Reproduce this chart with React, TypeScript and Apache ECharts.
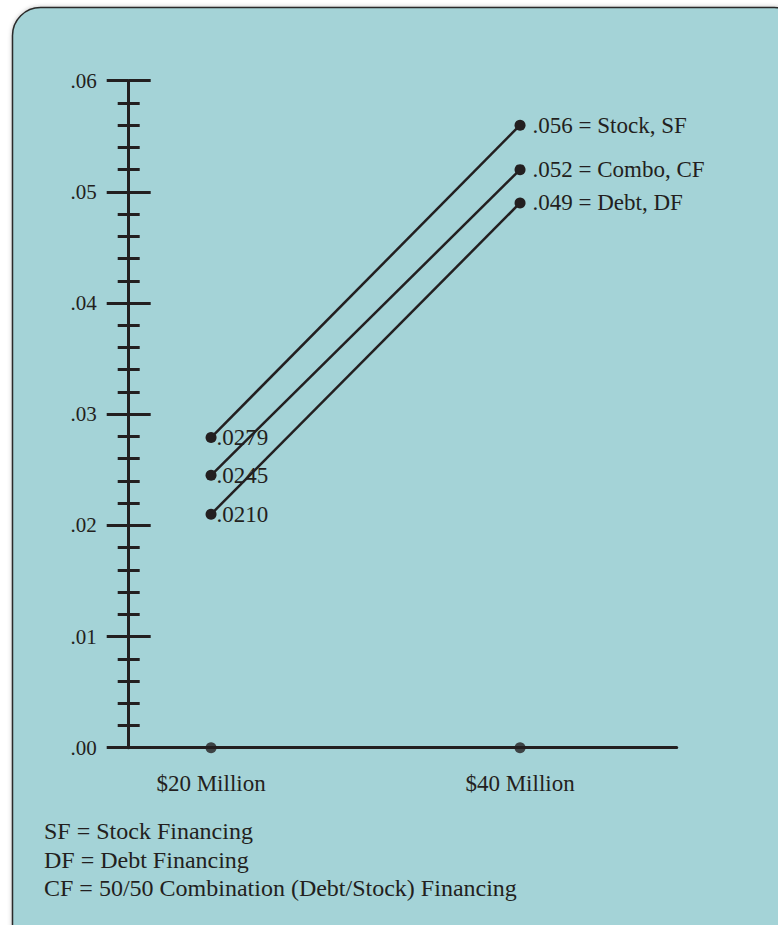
import React, { useEffect, useRef } from "react";
import * as echarts from "echarts";

const xValues = [20, 40];
const xLabels = ["$20 Million", "$40 Million"];
const seriesNames = ["Stock", "Combo", "Debt"];
const stockValues = [0.0279, 0.056];
const comboValues = [0.0245, 0.052];
const debtValues = [0.021, 0.049];
const leftLabels = [".0279", ".0245", ".0210"];
const rightLabels = [".056 = Stock, SF", ".052 = Combo, CF", ".049 = Debt, DF"];
const yTickLabels = [".00", ".01", ".02", ".03", ".04", ".05", ".06"];
const notes = [
  "SF = Stock Financing",
  "DF = Debt Financing",
  "CF = 50/50 Combination (Debt/Stock) Financing",
];

const INK = "#231f20";
const FONT = "'Liberation Serif', 'DejaVu Serif', serif";

export default function App() {
  const ref = useRef<HTMLDivElement>(null);
  useEffect(() => {
    if (!ref.current) return;
    const chart = echarts.init(ref.current, null, { renderer: "svg" });
    const all = [stockValues, comboValues, debtValues];
    const lineSeries = all.map((vals, si) => ({
      type: "line",
      name: seriesNames[si],
      yAxisIndex: 0,
      data: vals.map((v, i) => ({
        value: [xValues[i], v],
        label: {
          show: true,
          position: "right",
          distance: i === 0 ? 0 : 7,
          formatter: i === 0 ? leftLabels[si] : rightLabels[si],
        },
      })),
      symbol: "circle",
      symbolSize: 11,
      itemStyle: { color: INK },
      lineStyle: { color: INK, width: 2.5 },
      label: { color: INK, fontFamily: FONT, fontSize: 23 },
      z: 5,
    }));
    const option: any = {
      animation: false,
      grid: { left: 128.7, right: 101.3, top: 80.7, bottom: 177.3 },
      graphic: [
        {
          type: "rect",
          z: -10,
          silent: true,
          shape: { x: 12.5, y: 7.5, width: 790, height: 950, r: 28 },
          style: {
            fill: "#a4d3d7",
            stroke: "#2b2b2b",
            lineWidth: 1.5,
            shadowBlur: 4,
            shadowColor: "rgba(0,0,0,0.25)",
          },
        },
        ...notes.map((t, i) => ({
          type: "text",
          left: 44,
          top: 819 + i * 28.5,
          style: { text: t, fill: INK, font: `24px ${FONT}` },
        })),
      ],
      xAxis: {
        type: "value",
        min: 14.67,
        max: 50.14,
        splitLine: { show: false },
        axisTick: { show: false },
        axisLine: { show: true, onZero: false, lineStyle: { color: INK, width: 3 } },
        axisLabel: {
          show: true,
          customValues: xValues,
          formatter: (v: number) => xLabels[xValues.indexOf(v)] ?? "",
          color: INK,
          fontFamily: FONT,
          fontSize: 23,
          margin: 24,
        },
      },
      yAxis: [
        {
          type: "value",
          min: 0,
          max: 0.06,
          interval: 0.01,
          position: "left",
          splitLine: { show: false },
          axisLine: { show: true, lineStyle: { color: INK, width: 3 } },
          axisTick: { show: true, inside: false, length: 22, lineStyle: { color: INK, width: 3 } },
          minorTick: { show: true, splitNumber: 5, length: 11, lineStyle: { color: INK, width: 3 } },
          axisLabel: {
            show: true,
            margin: 32,
            color: INK,
            fontFamily: FONT,
            fontSize: 21,
            formatter: (v: number) => yTickLabels[Math.round(v * 100)] ?? "",
          },
        },
        {
          type: "value",
          min: 0,
          max: 0.06,
          interval: 0.01,
          position: "left",
          offset: 0,
          splitLine: { show: false },
          axisLine: { show: false },
          axisTick: { show: true, inside: true, length: 22, lineStyle: { color: INK, width: 3 } },
          minorTick: { show: true, splitNumber: 5, length: 11, lineStyle: { color: INK, width: 3 } },
          axisLabel: { show: false },
        },
      ],
      series: [
        ...lineSeries,
        {
          type: "scatter",
          data: xValues.map((x) => [x, 0]),
          symbol: "circle",
          symbolSize: 11,
          itemStyle: { color: INK },
          z: 6,
        },
      ],
    };
    chart.setOption(option);
    return () => chart.dispose();
  }, []);
  return (
    <div
      ref={ref}
      style={{ position: "fixed", left: 0, top: 0, width: 778, height: 925, background: "#ffffff" }}
    />
  );
}
